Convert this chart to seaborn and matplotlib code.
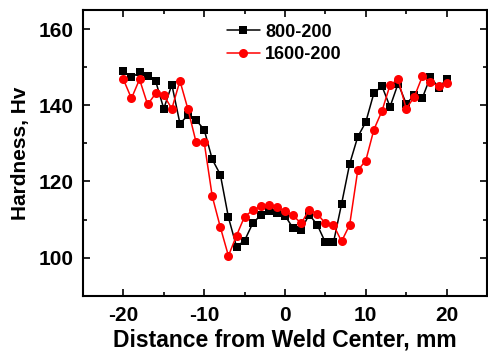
import matplotlib
matplotlib.use("Agg")
import matplotlib.pyplot as plt
import numpy as np
import pandas as pd
import seaborn as sns
from matplotlib.ticker import MultipleLocator

# distance from weld center, mm (1 mm steps)
distance = list(range(-20, 21))

hv_800 = [148.9, 147.3, 148.6, 147.6, 146.3, 139.1, 145.4, 135.2, 137.4, 136.1,
          133.6, 125.8, 121.8, 110.6, 102.9, 104.5, 109.0, 111.2, 112.2, 111.7,
          111.0, 107.8, 107.4, 111.3, 108.6, 104.0, 104.0, 114.1, 124.6, 131.7,
          135.6, 143.2, 145.0, 139.6, 145.7, 140.4, 142.6, 141.9, 147.5, 144.6,
          146.8]

hv_1600 = [146.8, 141.8, 146.8, 140.2, 143.1, 142.6, 139.1, 146.4, 138.9, 130.3,
           130.3, 116.1, 108.0, 100.5, 105.8, 110.8, 112.4, 113.5, 113.9, 113.2,
           112.2, 111.1, 109.0, 112.6, 111.5, 109.0, 108.6, 104.3, 108.6, 122.9,
           125.5, 133.6, 138.5, 145.3, 146.8, 139.1, 142.2, 147.6, 146.1, 145.0,
           145.9]

df1 = pd.DataFrame({"x": distance, "hv": hv_800})
df2 = pd.DataFrame({"x": distance, "hv": hv_1600})

sns.set_style("ticks", {"text.color": "black", "axes.labelcolor": "black",
                        "xtick.color": "black", "ytick.color": "black",
                        "axes.edgecolor": "black"})
plt.rcParams['font.family'] = ['Liberation Sans', 'DejaVu Sans']
plt.rcParams['font.weight'] = 'bold'
plt.rcParams['axes.unicode_minus'] = False

fig = plt.figure(figsize=(4.88, 3.56), dpi=100)
ax = fig.add_axes([0.170, 0.169, 0.828, 0.803])

sns.lineplot(data=df1, x="x", y="hv", ax=ax, color="black", marker="s",
             markersize=5.5, markeredgewidth=0, linewidth=1.1, label="800-200")
sns.lineplot(data=df2, x="x", y="hv", ax=ax, color="red", marker="o",
             markersize=6.5, markeredgewidth=0, linewidth=1.1, label="1600-200")

ax.set_xlim(-25, 25)
ax.set_ylim(90, 165)
ax.xaxis.set_major_locator(MultipleLocator(10))
ax.xaxis.set_minor_locator(MultipleLocator(5))
ax.yaxis.set_major_locator(MultipleLocator(20))
ax.yaxis.set_minor_locator(MultipleLocator(10))
ax.tick_params(which="both", direction="in", top=True, right=True, width=1.2,
               color="black", labelcolor="black")
ax.tick_params(which="major", length=5, labelsize=15, pad=7)
ax.tick_params(which="minor", length=3)
for lab in ax.get_xticklabels() + ax.get_yticklabels():
    lab.set_fontweight("bold")
for s in ax.spines.values():
    s.set_linewidth(1.5)
    s.set_color("black")

ax.set_xlabel("Distance from Weld Center, mm", fontsize=16.5, fontweight="bold",
              labelpad=3, color="black")
ax.set_ylabel("Hardness, Hv", fontsize=15, fontweight="bold", labelpad=6,
              color="black")

leg = ax.legend(loc="upper left", bbox_to_anchor=(0.33, 0.99), frameon=False,
                fontsize=13, handlelength=1.8, handletextpad=0.3,
                labelspacing=0.3, borderaxespad=0.2)
for t in leg.get_texts():
    t.set_fontweight("bold")
    t.set_color("black")

fig.savefig("out.png", dpi=100)
